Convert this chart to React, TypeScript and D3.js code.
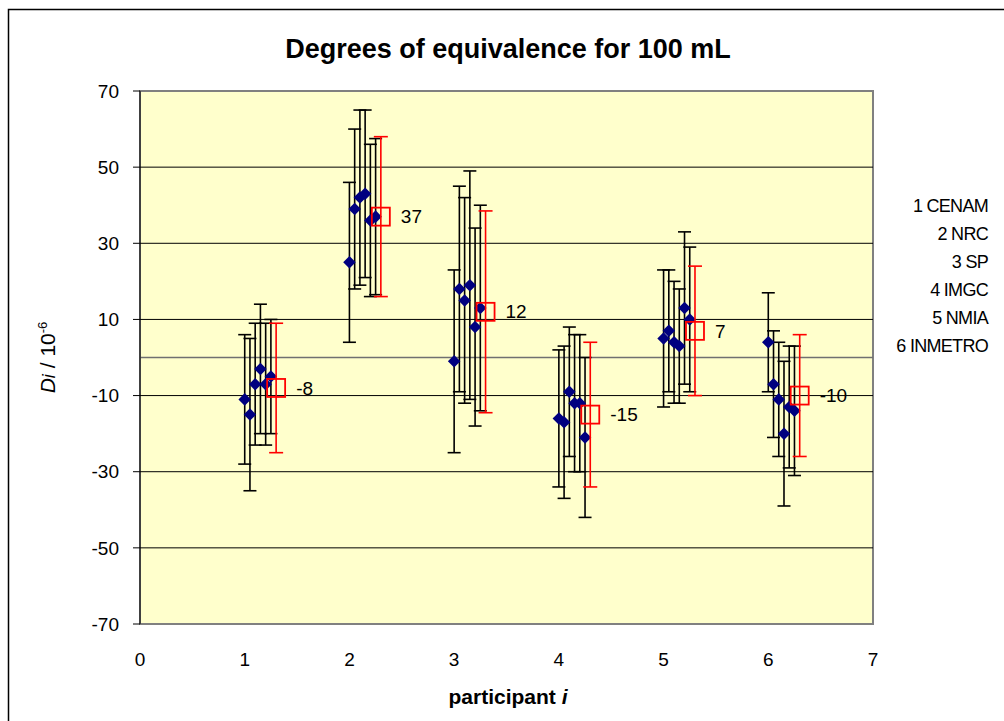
import React from 'react';
import * as d3 from 'd3';

// Degrees of equivalence D_i (in 1e-6) for each participant i, as seen by each lab j
const participants = [1, 2, 3, 4, 5, 6];
const labNames = ['1 CENAM', '2 NRC', '3 SP', '4 IMGC', '5 NMIA', '6 INMETRO'];
const labValues = [
  [-11, -15, -7, -3, -7, -5],
  [25, 39, 42, 43, 36, 37],
  [-1, 18, 15, 19, 8, 13],
  [-16, -17, -9, -12, -12, -21],
  [5, 7, 4, 3, 13, 10],
  [4, -7, -11, -20, -13, -14],
];
const labUncert = [
  [17, 20, 16, 17, 16, 15],
  [21, 21, 23, 22, 20, 20.5],
  [24, 27, 27, 30, 26, 27],
  [18, 20, 17, 18, 18, 21],
  [18, 16, 16, 15, 20, 19],
  [13, 14, 15, 19, 16, 17],
];
// mean degree of equivalence per participant (red squares)
const meanValues = [-8, 37, 12, -15, 7, -10];
const meanUncert = [17, 21, 26.5, 19, 17, 16];

const labOffsets = [0, 0.05, 0.1, 0.15, 0.2, 0.25];
const meanOffset = 0.3;

const xTicks = [0, 1, 2, 3, 4, 5, 6, 7];
const yTicks = [-70, -50, -30, -10, 10, 30, 50, 70];

const W = 1004;
const H = 721;
const plot = { left: 140, right: 873, top: 91, bottom: 624 };
const FONT = "'Liberation Sans', Arial, sans-serif";

export default function App() {
  const x = d3.scaleLinear().domain([0, 7]).range([plot.left, plot.right]);
  const y = d3.scaleLinear().domain([-70, 70]).range([plot.bottom, plot.top]);
  const diamond = d3.symbol().type(d3.symbolDiamond2).size(100)();
  const cap = 6.5;

  return (
    <div style={{ position: 'absolute', left: 0, top: 0 }}>
      <svg width={W} height={H} style={{ display: 'block', background: '#fff' }}>
        {/* chart frame */}
        <rect x={8.5} y={9.5} width={W + 20} height={H + 20} fill="#fff" stroke="#000" strokeWidth={1.5} />

        {/* plot area */}
        <rect
          x={plot.left}
          y={plot.top}
          width={plot.right - plot.left}
          height={plot.bottom - plot.top}
          fill="#FFFFCC"
          stroke="#808080"
          strokeWidth={2}
        />
        {yTicks
          .filter((t) => t !== 70 && t !== -70)
          .map((t) => (
            <line key={'g' + t} x1={plot.left} x2={plot.right} y1={y(t)} y2={y(t)} stroke="#000" strokeWidth={1} />
          ))}
        {/* horizontal axis crossing at zero */}
        <line x1={plot.left} x2={plot.right} y1={y(0)} y2={y(0)} stroke="#707070" strokeWidth={1.3} />

        {/* value axis */}
        <line x1={plot.left} x2={plot.left} y1={plot.top} y2={plot.bottom} stroke="#000" strokeWidth={1} />
        {yTicks.map((t) => (
          <g key={'yt' + t}>
            <line x1={plot.left - 7} x2={plot.left} y1={y(t)} y2={y(t)} stroke="#000" strokeWidth={1} />
            <text
              x={plot.left - 21}
              y={y(t)}
              dy="0.35em"
              textAnchor="end"
              fontFamily={FONT}
              fontSize={19}
              fill="#000"
            >
              {t}
            </text>
          </g>
        ))}
        {xTicks.map((t) => (
          <text
            key={'xt' + t}
            x={x(t)}
            y={659}
            dy="0.35em"
            textAnchor="middle"
            fontFamily={FONT}
            fontSize={19}
            fill="#000"
          >
            {t}
          </text>
        ))}

        {/* lab results with expanded uncertainty */}
        {participants.map((p, i) => (
          <g key={'p' + p}>
            {labValues[i].map((v, j) => {
              const cx = x(p + labOffsets[j]);
              const u = labUncert[i][j];
              return (
                <g key={'b' + j}>
                  <line x1={cx} x2={cx} y1={y(v + u)} y2={y(v - u)} stroke="#000" strokeWidth={1.6} />
                  <line x1={cx - cap} x2={cx + cap} y1={y(v + u)} y2={y(v + u)} stroke="#000" strokeWidth={1.6} />
                  <line x1={cx - cap} x2={cx + cap} y1={y(v - u)} y2={y(v - u)} stroke="#000" strokeWidth={1.6} />
                </g>
              );
            })}
            {labValues[i].map((v, j) => (
              <path key={'d' + j} d={diamond} transform={`translate(${x(p + labOffsets[j])},${y(v)})`} fill="#000080" />
            ))}
          </g>
        ))}

        {/* mean degree of equivalence */}
        {participants.map((p, i) => {
          const cx = x(p + meanOffset);
          const v = meanValues[i];
          const u = meanUncert[i];
          return (
            <g key={'m' + p}>
              <line x1={cx} x2={cx} y1={y(v + u)} y2={y(v - u)} stroke="#FF0000" strokeWidth={1.6} />
              <line x1={cx - cap - 0.5} x2={cx + cap + 0.5} y1={y(v + u)} y2={y(v + u)} stroke="#FF0000" strokeWidth={1.6} />
              <line x1={cx - cap - 0.5} x2={cx + cap + 0.5} y1={y(v - u)} y2={y(v - u)} stroke="#FF0000" strokeWidth={1.6} />
              <rect x={cx - 9} y={y(v) - 9} width={18} height={18} fill="none" stroke="#FF0000" strokeWidth={1.8} />
              <text x={cx + 20} y={y(v)} dy="0.35em" fontFamily={FONT} fontSize={19} fill="#000">
                {String(Math.round(v))}
              </text>
            </g>
          );
        })}

        {/* lab key */}
        {labNames.map((n, k) => (
          <text
            key={'l' + k}
            x={988}
            y={206 + k * 28}
            dy="0.35em"
            textAnchor="end"
            fontFamily={FONT}
            fontSize={18}
            letterSpacing={-0.7}
            fill="#000"
          >
            {n}
          </text>
        ))}

        {/* titles */}
        <text x={508} y={58} textAnchor="middle" fontFamily={FONT} fontSize={27} fontWeight="bold" fill="#000">
          Degrees of equivalence for 100 mL
        </text>
        <text x={508} y={704} textAnchor="middle" fontFamily={FONT} fontSize={21} fontWeight="bold" fill="#000">
          participant <tspan fontStyle="italic">i</tspan>
        </text>
        <text
          transform={`translate(55,${y(0)}) rotate(-90)`}
          textAnchor="middle"
          fontFamily={FONT}
          fontSize={21}
          fill="#000"
        >
          <tspan fontStyle="italic">D</tspan>
          <tspan fontStyle="italic" fontSize={18}>i</tspan>
          <tspan> / 10</tspan>
          <tspan fontSize={13} dy={-8}>-6</tspan>
        </text>
      </svg>
    </div>
  );
}
